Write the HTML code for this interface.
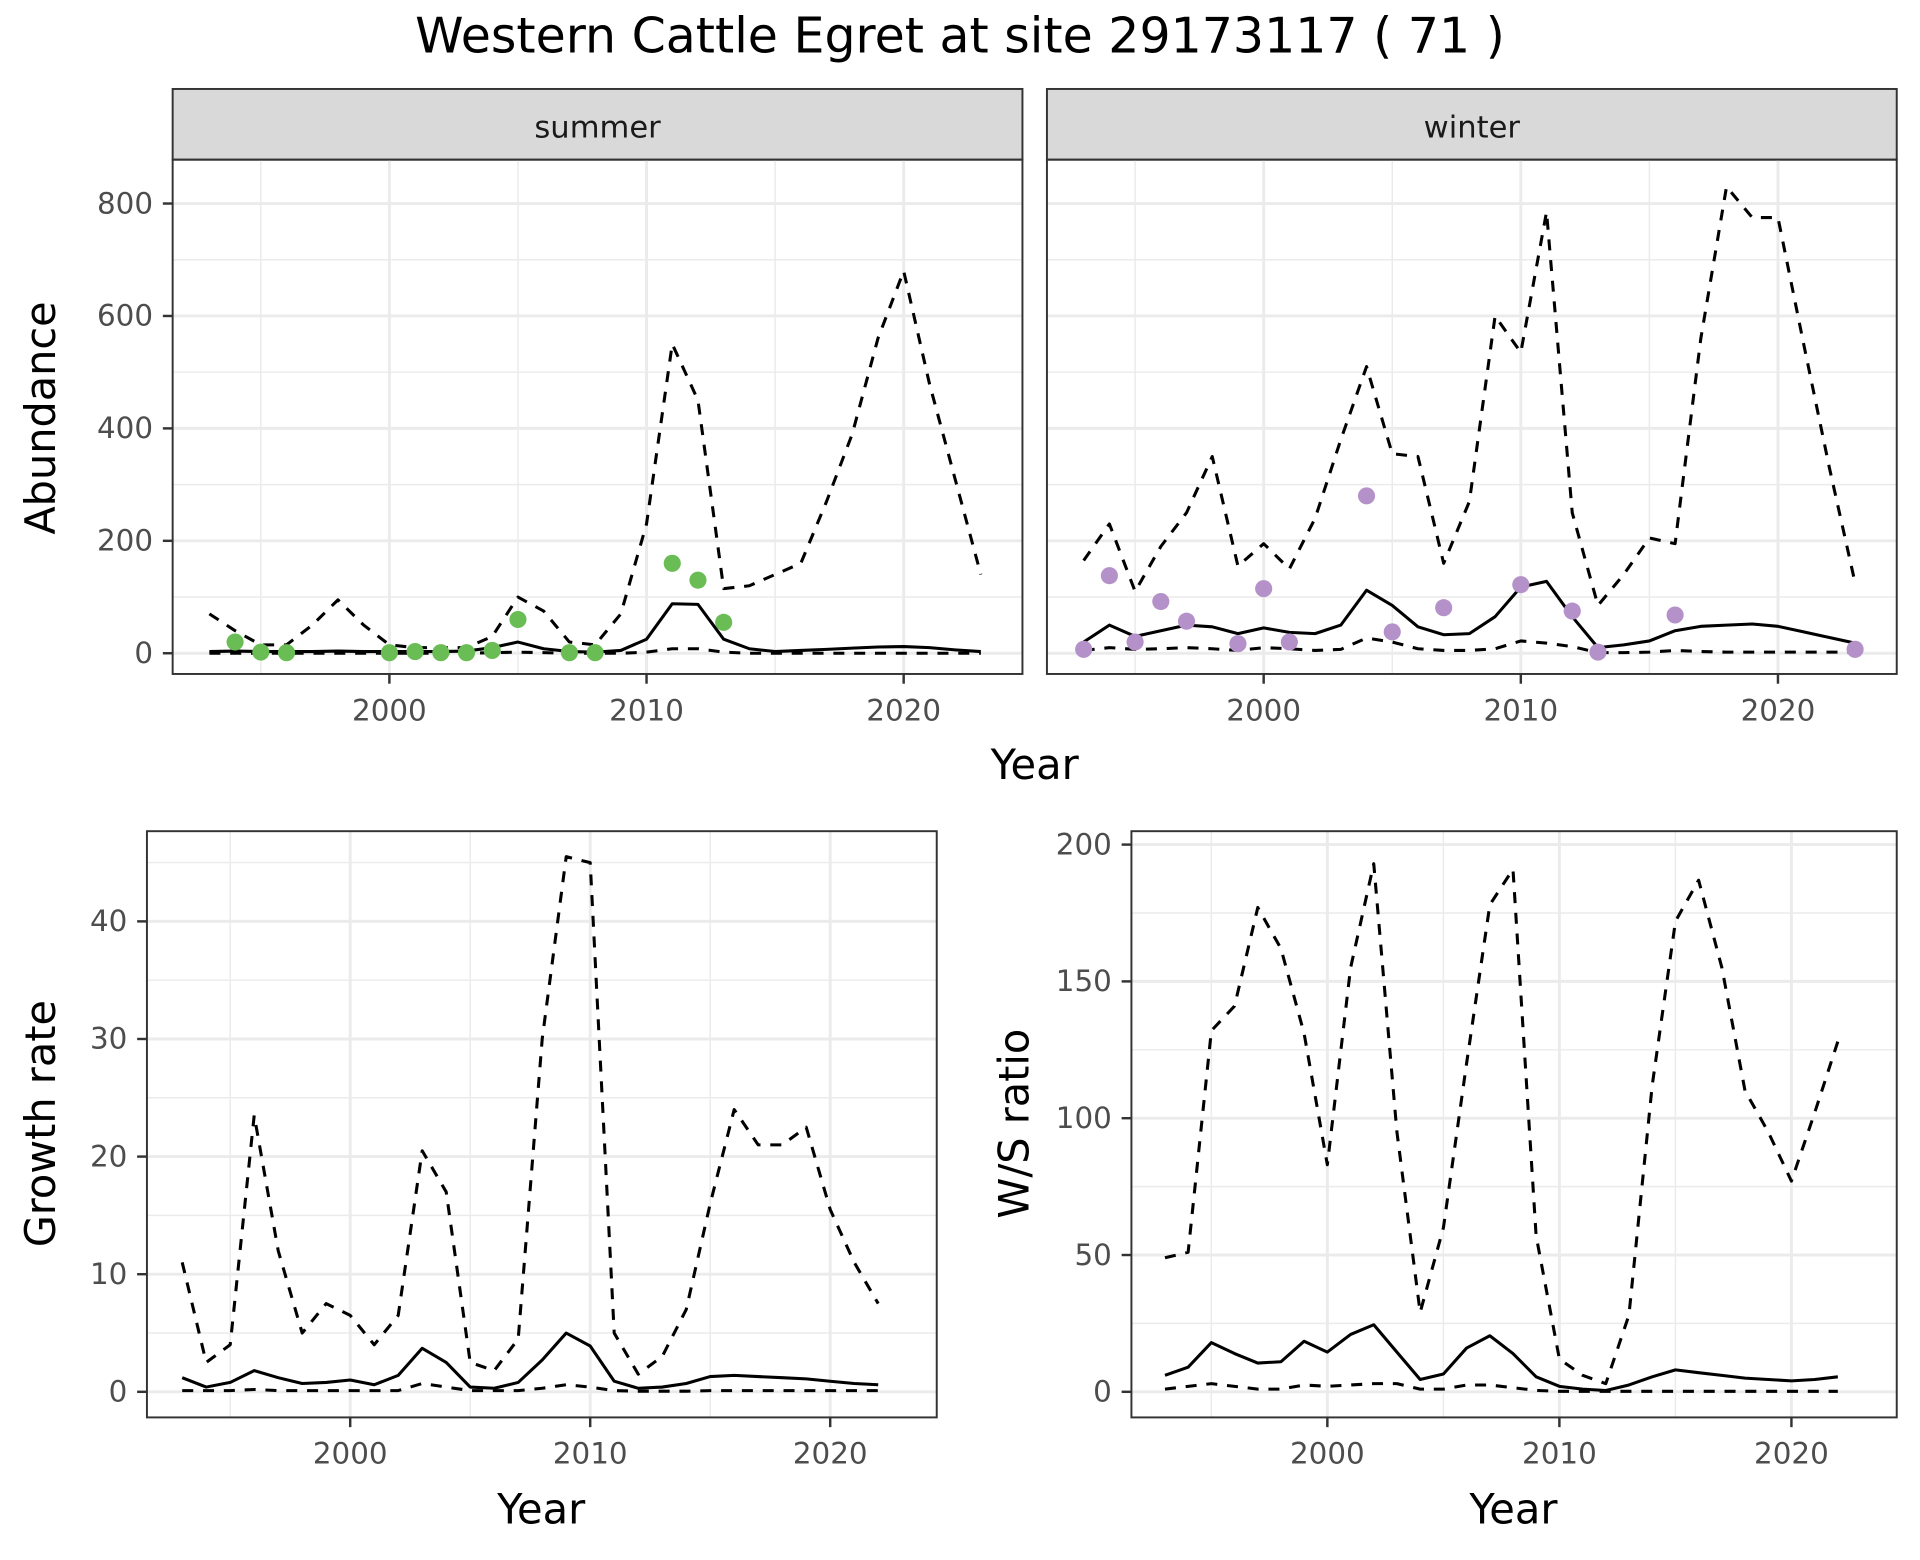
<!DOCTYPE html>
<html><head><meta charset="utf-8"><style>html,body{margin:0;padding:0;background:#fff}svg{display:block}</style></head>
<body>
<svg id="chart" width="1920" height="1560" viewBox="0 0 1568 1280" preserveAspectRatio="none" xmlns="http://www.w3.org/2000/svg" font-family="DejaVu Sans, Liberation Sans, sans-serif">
<text x="784" y="43" font-size="40" text-anchor="middle" fill="#000">Western Cattle Egret at site 29173117 ( 71 )</text>
</svg>
<script>
const years = [1993,1994,1995,1996,1997,1998,1999,2000,2001,2002,2003,2004,2005,2006,2007,2008,2009,2010,2011,2012,2013,2014,2015,2016,2017,2018,2019,2020,2021,2022,2023];
const summerUpperFull = [70,40,15,15,50,95,50,15,10,10,10,30,100,75,20,15,70,230,550,450,115,120,140,160,270,390,560,680,480,310,140];
const summerMid = [3,4,3,3,3,4,3,3,3,3,4,10,20,8,3,2,5,25,88,87,25,8,3,5,7,9,11,12,10,6,3];
const summerLower = [0,0,0,0,0,0,0,0,0,0,0,1,2,1,0,0,0,2,8,8,2,0,0,0,0,0,0,0,0,0,0];
const summerPtYears = [1994,1995,1996,2000,2001,2002,2003,2004,2005,2007,2008,2011,2012,2013];
const summerPtVals = [20,2,1,1,3,1,1,5,60,1,1,160,130,55];
const winterUpper = [165,230,110,190,250,350,155,195,150,240,380,510,355,350,160,270,600,535,785,250,85,140,205,195,560,830,775,775,550,330,125];
const winterMid = [20,50,30,40,50,47,35,45,37,35,50,112,85,47,33,35,65,118,128,65,10,15,22,40,48,50,52,48,38,28,18];
const winterLower = [5,10,7,8,10,8,5,10,8,5,7,27,20,8,5,5,8,22,18,12,1,1,2,5,3,2,2,2,2,2,2];
const winterPtYears = [1993,1994,1995,1996,1997,1999,2000,2001,2004,2005,2007,2010,2012,2013,2016,2023];
const winterPtVals = [7,138,20,92,57,17,115,20,280,38,81,122,75,2,68,7];
const years2 = years.slice(0,30);
const growthUpper = [11,2.5,4,23.5,12,5,7.5,6.5,4,6.5,20.5,17,2.5,1.8,4.5,30,45.5,45,5,1.5,3,7,16,24,21,21,22.5,15.5,11,7.5];
const growthMid = [1.2,0.4,0.8,1.8,1.2,0.7,0.8,1.0,0.6,1.4,3.7,2.5,0.4,0.3,0.8,2.7,5,3.9,0.9,0.3,0.4,0.7,1.3,1.4,1.3,1.2,1.1,0.9,0.7,0.6];
const growthLower = [0.1,0.1,0.1,0.2,0.1,0.1,0.1,0.1,0.1,0.1,0.7,0.4,0.1,0.1,0.1,0.3,0.6,0.4,0.1,0.05,0.05,0.05,0.1,0.1,0.1,0.1,0.1,0.1,0.1,0.1];
const ratioUpper = [49,51,132,141,177,162,131,83,155,193,95,29,60,120,178,191,57,12,6,3,28,112,172,187,155,110,95,77,102,128];
const ratioMid = [6,9,18,14,10.5,11,18.5,14.5,21,24.5,14.5,4.5,6.5,16,20.5,14,5.5,2,1,0.5,2.5,5.5,8,7,6,5,4.5,4,4.5,5.5];
const ratioLower = [1,2,3,2,1,1,2.5,2,2.5,3,3,1,1,2.5,2.5,1.5,0.5,0.2,0.2,0.2,0.2,0.2,0.2,0.2,0.2,0.2,0.2,0.2,0.2,0.2];
const xTicks = [2000,2010,2020];
const xMinor = [1995,2005,2015];
const abTicks = [0,200,400,600,800];
const grTicks = [0,10,20,30,40];
const wsTicks = [0,50,100,150,200];

const svg = document.getElementById('chart');
const NS = 'http://www.w3.org/2000/svg';
function mk(tag, attrs, parent){const e=document.createElementNS(NS,tag);for(const k in attrs)e.setAttribute(k,attrs[k]);(parent||svg).appendChild(e);return e;}

function panel(name, p, yTicks, yStep, series, pts, ptColor, showY){
  const g = mk('g',{});
  
  
  const X = v => p.x0 + (v - p.xa) * p.xs;
  const Y = v => p.y0 - v * p.ys;
  xMinor.forEach(v=>{mk('line',{x1:X(v),x2:X(v),y1:p.top,y2:p.bot,stroke:'#ebebeb','stroke-width':1.2},g);});
  yTicks.forEach(v=>{const m=v+yStep/2; if(Y(m)>p.top) mk('line',{x1:p.left,x2:p.right,y1:Y(m),y2:Y(m),stroke:'#ebebeb','stroke-width':1.2},g);});
  xTicks.forEach(v=>{mk('line',{x1:X(v),x2:X(v),y1:p.top,y2:p.bot,stroke:'#ebebeb','stroke-width':2.4},g);});
  yTicks.forEach(v=>{mk('line',{x1:p.left,x2:p.right,y1:Y(v),y2:Y(v),stroke:'#ebebeb','stroke-width':2.4},g);});
  series.forEach(s=>{
    const d = s.vals.map((v,i)=>(i?'L':'M')+X(s.yrs[i]).toFixed(1)+','+Y(v).toFixed(1)).join('');
    const path = mk('path',{d:d,fill:'none',stroke:'#000','stroke-width':2.5,'stroke-dasharray':s.dash?'9,8':'none','stroke-linejoin':'round'},g);
    
    
  });
  if(pts){pts.vals.forEach((v,i)=>{
    const c = mk('circle',{cx:X(pts.yrs[i]),cy:Y(v),r:7,fill:ptColor},g);
    
    
  });}
  mk('rect',{x:p.left,y:p.top,width:p.right-p.left,height:p.bot-p.top,fill:'none',stroke:'#333','stroke-width':1.6},g);
  if(showY) yTicks.forEach(v=>{
    mk('line',{x1:p.left-8,x2:p.left,y1:Y(v),y2:Y(v),stroke:'#333','stroke-width':2},g);
    const t=mk('text',{x:p.left-16,y:Y(v)+8,'font-size':24,'text-anchor':'end',fill:'#4d4d4d'},g);t.textContent=v;
    
    
  });
  xTicks.forEach(v=>{
    mk('line',{x1:X(v),x2:X(v),y1:p.bot,y2:p.bot+8,stroke:'#333','stroke-width':2},g);
    const t=mk('text',{x:X(v),y:p.bot+38,'font-size':24,'text-anchor':'middle',fill:'#4d4d4d'},g);t.textContent=v;
    
    
  });
}
function strip(name,x0,x1,label){
  const r=mk('rect',{x:x0,y:73,width:x1-x0,height:58,fill:'#d9d9d9',stroke:'#333','stroke-width':1.6});
  
  
  const t=mk('text',{x:(x0+x1)/2,y:113,'font-size':25,'text-anchor':'middle',fill:'#1a1a1a'});t.textContent=label;
  
  
}
function label(name,txt,x,y,rot){
  const t=mk('text',{x:x,y:y,'font-size':34,'text-anchor':'middle',fill:'#000'});
  if(rot) t.setAttribute('transform','rotate(-90 '+x+' '+y+')');
  t.textContent=txt;
  
  
}

const sp={left:141,right:835,top:131,bot:553,x0:318,xa:2000,xs:21,y0:536,ys:0.46125};
strip('summer-strip',141,835,'summer');
panel('summer-panel',sp,abTicks,200,[
 {yrs:years,vals:summerUpperFull,dash:true,name:'summer-upper-bound'},
 {yrs:years,vals:summerMid,dash:false,name:'summer-estimate'},
 {yrs:years,vals:summerLower,dash:true,name:'summer-lower-bound'}],
 {yrs:summerPtYears,vals:summerPtVals},'#6abd55',true);
const wp={left:855,right:1549,top:131,bot:553,x0:1032,xa:2000,xs:21,y0:536,ys:0.46125};
strip('winter-strip',855,1549,'winter');
panel('winter-panel',wp,abTicks,200,[
 {yrs:years,vals:winterUpper,dash:true,name:'winter-upper-bound'},
 {yrs:years,vals:winterMid,dash:false,name:'winter-estimate'},
 {yrs:years,vals:winterLower,dash:true,name:'winter-lower-bound'}],
 {yrs:winterPtYears,vals:winterPtVals},'#b491c8',false);
label('abundance-y-title','Abundance',45,343,true);
label('top-x-title','Year',845,639,false);

const gp={left:120,right:765,top:682,bot:1163,x0:286,xa:2000,xs:19.6,y0:1142,ys:9.65};
panel('growth-panel',gp,grTicks,10,[
 {yrs:years2,vals:growthUpper,dash:true,name:'growth-upper-bound'},
 {yrs:years2,vals:growthMid,dash:false,name:'growth-estimate'},
 {yrs:years2,vals:growthLower,dash:true,name:'growth-lower-bound'}],null,null,true);
label('growth-y-title','Growth rate',45,922,true);
label('growth-x-title','Year',442,1250,false);

const rp={left:924,right:1549,top:682,bot:1163,x0:1084,xa:2000,xs:18.95,y0:1142,ys:2.245};
panel('ratio-panel',rp,wsTicks,50,[
 {yrs:years2,vals:ratioUpper,dash:true,name:'ratio-upper-bound'},
 {yrs:years2,vals:ratioMid,dash:false,name:'ratio-estimate'},
 {yrs:years2,vals:ratioLower,dash:true,name:'ratio-lower-bound'}],null,null,true);
label('ratio-y-title','W/S ratio',840,922,true);
label('ratio-x-title','Year',1236,1250,false);
</script>
</body></html>
